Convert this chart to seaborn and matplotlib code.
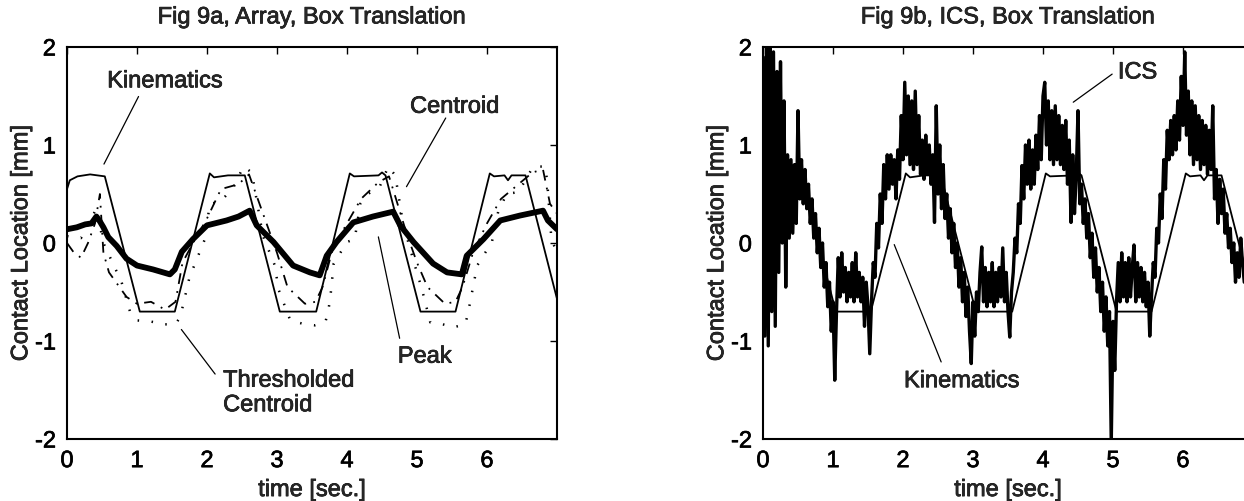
import matplotlib
matplotlib.use('Agg')
import matplotlib.pyplot as plt
import matplotlib.patheffects as pe
import numpy as np
import pandas as pd
import seaborn as sns

sns.set_style("white")
plt.rcParams['font.family'] = ['Liberation Sans', 'DejaVu Sans']
plt.rcParams['axes.unicode_minus'] = False

# --- data (time [s], contact location [mm]) ---
kin_t = [0.0, 0.04, 0.15, 0.33, 0.54, 1.04, 1.54, 2.04, 2.1, 2.3, 2.54, 3.04, 3.56,
         4.04, 4.1, 4.45, 4.5, 4.55, 5.05, 5.55, 6.04, 6.1, 6.25, 6.3, 6.35, 6.55, 7.0]
kin_y = [0.55, 0.64, 0.68, 0.7, 0.68, -0.7, -0.7, 0.71, 0.67, 0.69, 0.69, -0.7, -0.7,
         0.71, 0.68, 0.69, 0.72, 0.69, -0.7, -0.7, 0.71, 0.68, 0.69, 0.64, 0.69, 0.69, -0.57]

cen_t = [0, 0.14, 0.26, 0.35, 0.42, 0.47, 0.52, 0.59, 0.71, 0.85, 1.0, 1.23, 1.47, 1.54,
         1.64, 1.8, 2.0, 2.28, 2.45, 2.61, 2.71, 2.95, 3.23, 3.47, 3.61, 3.71, 3.85, 4.09,
         4.37, 4.66, 4.76, 4.95, 5.23, 5.43, 5.64, 5.71, 5.95, 6.19, 6.47, 6.8, 6.87, 7.0]
cen_y = [0.14, 0.16, 0.19, 0.2, 0.27, 0.22, 0.16, 0.06, -0.03, -0.16, -0.23, -0.27, -0.32, -0.27,
         -0.09, 0.04, 0.18, 0.23, 0.27, 0.33, 0.18, 0.01, -0.23, -0.3, -0.33, -0.13, 0.01, 0.21,
         0.27, 0.32, 0.18, 0.01, -0.21, -0.3, -0.32, -0.13, 0.04, 0.23, 0.28, 0.33, 0.23, 0.14]

thr_t = [0.0, 0.2, 0.42, 0.52, 0.78, 0.9, 1.0, 1.19, 1.38, 1.55, 1.62, 1.75, 1.97, 2.04,
         2.19, 2.38, 2.52, 2.64, 2.8, 2.97, 3.02, 3.19, 3.4, 3.54, 3.69, 3.73, 3.76, 3.81,
         4.0, 4.11, 4.19, 4.3, 4.47, 4.59, 4.69, 4.8, 4.97, 5.07, 5.19, 5.37, 5.52, 5.69,
         5.73, 5.76, 5.86, 6.07, 6.16, 6.28, 6.45, 6.66, 6.83, 6.86, 6.92, 7.0]
thr_y = [0.07, 0.05, 0.35, 0.0, -0.4, -0.7, -0.79, -0.8, -0.83, -0.83, -0.75, -0.35, 0.04, 0.4,
         0.42, 0.57, 0.78, 0.72, 0.07, -0.23, -0.47, -0.79, -0.83, -0.84, -0.81, -0.7, -0.57, -0.21,
         0.01, 0.04, 0.4, 0.5, 0.58, 0.78, 0.69, 0.2, -0.23, -0.47, -0.81, -0.83, -0.86, -0.83,
         -0.71, -0.6, -0.23, 0.01, 0.32, 0.5, 0.52, 0.78, 0.78, 0.63, 0.04, -0.1]

peak_t = [0, 0.1, 0.2, 0.3, 0.4, 0.47, 0.52, 0.6, 0.7, 0.85, 1.0, 1.2, 1.4, 1.55, 1.65, 1.8,
          2.0, 2.2, 2.45, 2.6, 2.7, 2.85, 3.0, 3.15, 3.4, 3.55, 3.65, 3.8, 4.0, 4.2, 4.45,
          4.6, 4.7, 4.85, 5.0, 5.15, 5.4, 5.55, 5.65, 5.8, 6.0, 6.2, 6.45, 6.65, 6.8, 6.9, 7.0]
peak_y = [0.0, -0.1, -0.15, 0.0, 0.2, 0.5, -0.1, -0.3, -0.4, -0.55, -0.62, -0.6, -0.68, -0.6,
          -0.2, 0.0, 0.25, 0.55, 0.6, 0.7, 0.5, 0.2, -0.1, -0.45, -0.62, -0.6, -0.45, -0.05,
          0.2, 0.45, 0.62, 0.68, 0.45, 0.1, -0.2, -0.45, -0.62, -0.6, -0.45, -0.1, 0.2, 0.45,
          0.6, 0.72, 0.75, 0.4, 0.3]

# ICS estimate, one sample every 25 ms (rows of 0.25 s)
ics_dt = 0.025
ics_y = [
    1.9, -0.95, 2.1, -1.05, 2.05, -0.7, 1.95, -0.85, 1.75, -0.3,
    1.85, 0.0, 1.45, -0.45, 0.9, 0.05, 0.85, 0.1, 0.8, 0.2,
    1.35, 0.45, 0.85, 0.4, 0.75, 0.35, 0.6, 0.2, 0.45, 0.05,
    0.3, -0.1, 0.15, -0.25, 0.0, -0.45, -0.2, -0.65, -0.4, -0.9,
    -0.6, -1.4, -0.7, -0.15, -0.55, -0.1, -0.5, -0.25, -0.6, -0.3,
    -0.55, -0.2, -0.6, -0.1, -0.55, -0.3, -0.6, -0.35, -0.85, -0.4,
    -0.65, -1.13, -0.6, -0.2, -0.35, 0.2, -0.05, 0.5, 0.2, 0.8,
    0.45, 0.9, 0.55, 0.9, 0.6, 0.85, 0.45, 0.95, 0.65, 1.3,
    0.85, 1.64, 0.9, 1.5, 0.8, 1.45, 0.75, 1.55, 0.8, 1.3,
    0.7, 1.05, 0.65, 1.1, 0.7, 1.0, 0.6, 0.9, 0.21, 1.4,
    0.5, 1.0, 0.35, 0.8, 0.25, 0.5, 0.05, 0.35, -0.1, 0.2,
    -0.25, 0.0, -0.45, -0.15, -0.6, -0.3, -0.75, -0.45, -0.9, -1.23,
    -0.6, -0.95, -0.5, -0.7, -0.3, -0.04, -0.6, -0.25, -0.65, -0.3,
    -0.6, -0.2, -0.65, -0.3, -0.6, -0.25, -0.55, -0.05, -0.6, -0.3,
    -0.7, -0.96, -0.5, -0.3, 0.05, -0.1, 0.4, 0.2, 0.79, 0.45,
    1.0, 0.6, 1.05, 0.55, 0.95, 0.6, 1.1, 0.75, 1.3, 0.85,
    1.5, 1.64, 1.0, 1.45, 0.85, 1.35, 0.8, 1.4, 0.85, 1.3,
    0.8, 1.2, 0.75, 1.25, 0.6, 1.05, 0.21, 0.9, 0.3, 0.7,
    1.35, 0.4, 0.6, 0.2, 0.45, 0.05, 0.3, -0.15, 0.1, -0.35,
    -0.05, -0.5, -0.25, -0.7, -0.4, -0.9, -0.55, -1.05, -0.7, -2.05,
    -0.8, -1.3, -0.6, -0.2, -0.6, -0.1, -0.55, -0.2, -0.6, -0.15,
    -0.55, -0.25, -0.02, -0.6, -0.2, -0.55, -0.25, -0.6, -0.3, -0.65,
    -0.4, -0.95, -0.55, -0.2, -0.35, 0.15, 0.0, 0.5, 0.25, 0.85,
    0.55, 1.15, 0.85, 1.25, 0.9, 1.3, 0.95, 1.45, 1.05, 1.7,
    1.2, 1.95, 1.1, 1.55, 0.9, 1.45, 0.8, 1.4, 0.85, 1.3,
    0.75, 1.25, 0.8, 1.2, 0.7, 1.15, 0.75, 1.4, 0.45, 0.75,
    0.2, 0.65, 0.3, 0.55, 0.1, 0.3, -0.05, 0.15, -0.2, 0.0,
    -0.4, -0.1, -0.35, 0.05, -0.2, -0.4,
]
ics_t = np.arange(len(ics_y)) * ics_dt

FS = 17
ink = [pe.withStroke(linewidth=0.5, foreground='black')]

fig = plt.figure(figsize=(12.44, 5.02), dpi=100)
ax1 = fig.add_axes([67 / 1244, 62 / 502, 490 / 1244, 392 / 502])
ax2 = fig.add_axes([763 / 1244, 62 / 502, 490 / 1244, 392 / 502])


def line(ax, x, y, **kw):
    sns.lineplot(x=x, y=y, ax=ax, sort=False, estimator=None, color='black', **kw)


# left panel
line(ax1, kin_t, kin_y, linewidth=1.3)
line(ax1, cen_t, cen_y, linewidth=4.2)
line(ax1, thr_t, thr_y, linewidth=1.8, linestyle=(0, (0.6, 5)))
line(ax1, peak_t, peak_y, linewidth=1.3, linestyle=(0, (6, 4, 1, 4)))

# right panel
line(ax2, ics_t, ics_y, linewidth=2.4)
line(ax2, kin_t, kin_y, linewidth=1.3)

for ax, ttl in [(ax1, 'Fig 9a, Array, Box Translation'), (ax2, 'Fig 9b, ICS, Box Translation')]:
    ax.set_xlim(0, 7)
    ax.set_ylim(-2, 2)
    ax.set_xticks(range(7))
    ax.set_yticks([-2, -1, 0, 1, 2])
    ax.tick_params(direction='in', length=5, width=1, top=True, right=True,
                   labelsize=FS, pad=8, colors='black')
    for s in ax.spines.values():
        s.set_linewidth(1.5)
        s.set_color('black')
    ax.set_title(ttl, fontsize=FS, pad=17)
    ax.set_xlabel('time [sec.]', fontsize=FS, labelpad=5)
    ax.set_ylabel('Contact Location [mm]', fontsize=FS, labelpad=2)
    for t in ax.get_xticklabels() + ax.get_yticklabels() + [ax.title, ax.xaxis.label, ax.yaxis.label]:
        t.set_path_effects(ink)


def note(ax, txt, x, y, p0, p1, ha='center'):
    ax.text(x, y, txt, fontsize=FS, ha=ha, va='center', linespacing=1.15, path_effects=ink)
    ax.annotate('', xy=p1, xytext=p0, arrowprops=dict(arrowstyle='-', lw=0.9, color='black'))


note(ax1, 'Kinematics', 1.4, 1.65, (1.04, 1.52), (0.51, 0.78))
note(ax1, 'Centroid', 5.54, 1.39, (5.43, 1.30), (4.83, 0.55))
note(ax1, 'Peak', 5.11, -1.16, (4.44, 0.09), (4.76, -1.0))
note(ax1, 'Thresholded\nCentroid', 2.23, -1.53, (1.61, -0.86), (2.14, -1.36), ha='left')

note(ax2, 'ICS', 5.35, 1.74, (5.02, 1.74), (4.4, 1.42))
note(ax2, 'Kinematics', 2.84, -1.41, (1.86, 0.01), (2.56, -1.24))

fig.savefig('out.png', dpi=100)
plt.close(fig)
